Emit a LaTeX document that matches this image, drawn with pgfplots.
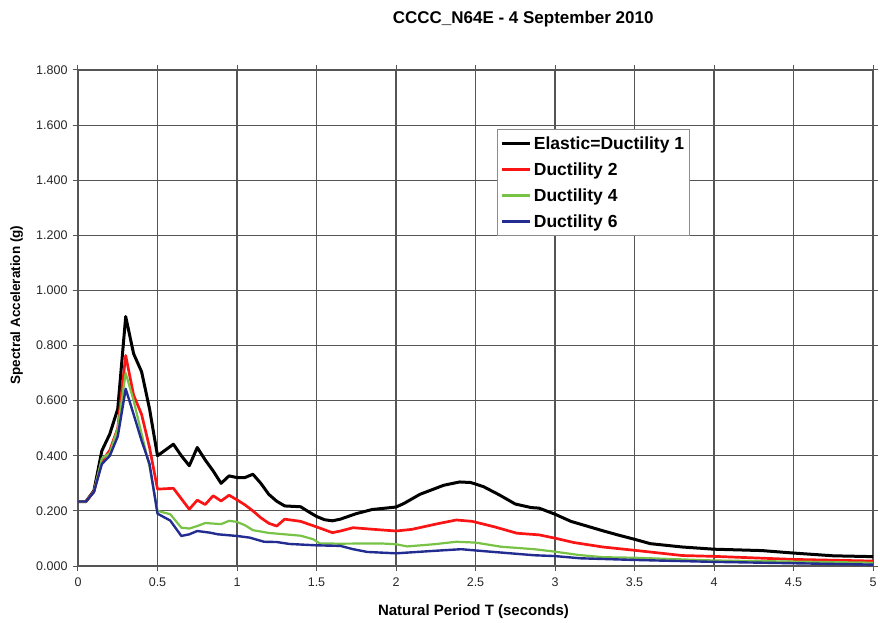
\documentclass[border=0pt]{standalone}
\usepackage{pgfplots}
\pgfplotsset{compat=1.18}
\usepackage{fontspec}
\setmainfont{Liberation Sans}

\definecolor{gridgray}{RGB}{85,85,85}
\definecolor{duct2}{RGB}{250,20,20}
\definecolor{duct4}{RGB}{120,195,70}
\definecolor{duct6}{RGB}{35,45,145}

\begin{document}
\begin{tikzpicture}
% fixed page frame around the plot area (1pt per unit)
\path[use as bounding box] (-78pt,-56pt) rectangle (802pt,566pt);
\begin{axis}[
  scale only axis,
  width=795pt, height=496pt,
  xmin=0, xmax=5, ymin=0, ymax=1.8,
  xtick={0,0.5,...,5},
  ytick={0,0.2,...,1.8},
  grid=major,
  grid style={gridgray, line width=1.2pt},
  axis line style={gridgray, line width=1.2pt},
  tick align=outside,
  major tick length=5pt,
  tick style={gridgray, line width=1pt},
  /pgf/number format/assume math mode=true,
  yticklabel style={/pgf/number format/fixed, /pgf/number format/fixed zerofill, /pgf/number format/precision=3, xshift=-2pt},
  scaled y ticks=false,
  ticklabel style={font=\fontsize{12.5}{15}\selectfont, text=black!85},
  xticklabel style={yshift=-3pt},
  xlabel={Natural Period T (seconds)},
  ylabel={Spectral Acceleration (g)},
  xlabel style={font=\bfseries\fontsize{15}{18}\selectfont, at={(axis description cs:0.4975,-0.0927)}, anchor=center},
  ylabel style={font=\bfseries\fontsize{13.5}{16}\selectfont, at={(axis description cs:-0.0771,0.526)}, anchor=center},
  clip=false,
  legend cell align=left,
  legend style={at={(axis cs:2.635,1.585)}, anchor=north west,
    draw=black!45, line width=0.8pt, fill=white,
    font=\bfseries\fontsize{17.5}{20}\selectfont,
    inner xsep=3pt, inner ysep=4.5pt, row sep=6.5pt,
    nodes={inner xsep=2.5pt, inner ysep=2.6pt}},
  legend image code/.code={\draw[#1] (0pt,0pt) -- (28pt,0pt);},
]

\node[font=\bfseries\fontsize{17}{20}\selectfont] at (axis description cs:0.56,1.102) {CCCC\_N64E - 4 September 2010};

% Elastic (ductility 1)
\addplot[black, line width=3pt, line join=round] coordinates {
(0,0.234) (0.05,0.234) (0.1,0.273) (0.15,0.418) (0.2,0.479) (0.25,0.57)
(0.3,0.905) (0.35,0.77) (0.4,0.705) (0.45,0.57) (0.5,0.40) (0.6,0.442)
(0.65,0.40) (0.7,0.364) (0.75,0.43) (0.8,0.385) (0.85,0.345) (0.9,0.300)
(0.95,0.327) (1.0,0.321) (1.05,0.321) (1.1,0.333) (1.15,0.300) (1.2,0.260)
(1.25,0.235) (1.3,0.218) (1.4,0.215) (1.45,0.197) (1.5,0.180) (1.55,0.168)
(1.6,0.164) (1.65,0.170) (1.75,0.190) (1.85,0.205) (2.0,0.214) (2.05,0.227)
(2.15,0.260) (2.3,0.293) (2.4,0.305) (2.47,0.303) (2.55,0.288) (2.65,0.258)
(2.75,0.225) (2.85,0.212) (2.9,0.210) (3.0,0.188) (3.1,0.162) (3.2,0.145)
(3.3,0.128) (3.4,0.112) (3.5,0.097) (3.6,0.081) (3.8,0.069) (4.0,0.061)
(4.3,0.056) (4.5,0.047) (4.75,0.037) (5.0,0.034)
};
\addlegendentry{Elastic=Ductility 1}

% Ductility 2
\addplot[duct2, line width=2.7pt, line join=round] coordinates {
(0,0.234) (0.05,0.234) (0.1,0.27) (0.15,0.38) (0.2,0.42) (0.25,0.50)
(0.3,0.764) (0.35,0.62) (0.4,0.55) (0.45,0.43) (0.5,0.279) (0.6,0.282)
(0.7,0.206) (0.75,0.239) (0.8,0.223) (0.85,0.255) (0.9,0.236) (0.95,0.257)
(1.0,0.24) (1.05,0.222) (1.1,0.20) (1.15,0.175) (1.2,0.155) (1.25,0.145)
(1.3,0.17) (1.4,0.162) (1.5,0.142) (1.6,0.121) (1.65,0.127) (1.73,0.139)
(1.86,0.133) (2.0,0.127) (2.1,0.133) (2.25,0.152) (2.38,0.167) (2.48,0.162)
(2.62,0.142) (2.76,0.119) (2.9,0.113) (3.0,0.101) (3.12,0.085) (3.3,0.069)
(3.5,0.057) (3.8,0.038) (4.0,0.035) (4.5,0.024) (5.0,0.018)
};
\addlegendentry{Ductility 2}

% Ductility 4
\addplot[duct4, line width=2.2pt, line join=round] coordinates {
(0,0.234) (0.05,0.234) (0.1,0.27) (0.15,0.39) (0.2,0.41) (0.25,0.50)
(0.3,0.70) (0.35,0.60) (0.4,0.48) (0.45,0.36) (0.5,0.20) (0.58,0.188)
(0.65,0.139) (0.7,0.136) (0.75,0.145) (0.8,0.156) (0.85,0.154) (0.9,0.152)
(0.95,0.164) (1.0,0.160) (1.05,0.148) (1.1,0.130) (1.2,0.120) (1.3,0.115)
(1.4,0.110) (1.48,0.097) (1.52,0.082) (1.65,0.081) (1.9,0.082) (2.0,0.079)
(2.07,0.071) (2.24,0.079) (2.38,0.088) (2.5,0.085) (2.66,0.070) (2.87,0.061)
(3.0,0.052) (3.15,0.040) (3.3,0.032) (3.5,0.030) (4.0,0.020) (5.0,0.012)
};
\addlegendentry{Ductility 4}

% Ductility 6
\addplot[duct6, line width=2.4pt, line join=round] coordinates {
(0,0.234) (0.05,0.234) (0.1,0.268) (0.15,0.37) (0.2,0.40) (0.25,0.47)
(0.3,0.643) (0.35,0.55) (0.4,0.455) (0.45,0.37) (0.5,0.19) (0.58,0.165)
(0.65,0.109) (0.7,0.115) (0.75,0.127) (0.83,0.121) (0.88,0.115) (1.0,0.109)
(1.08,0.103) (1.17,0.088) (1.25,0.087) (1.33,0.080) (1.5,0.075) (1.65,0.073)
(1.73,0.061) (1.82,0.051) (2.0,0.046) (2.24,0.055) (2.41,0.061) (2.53,0.055)
(2.87,0.039) (3.0,0.036) (3.16,0.028) (3.5,0.022) (4.0,0.015) (5.0,0.005)
};
\addlegendentry{Ductility 6}

\end{axis}
\end{tikzpicture}
\end{document}
